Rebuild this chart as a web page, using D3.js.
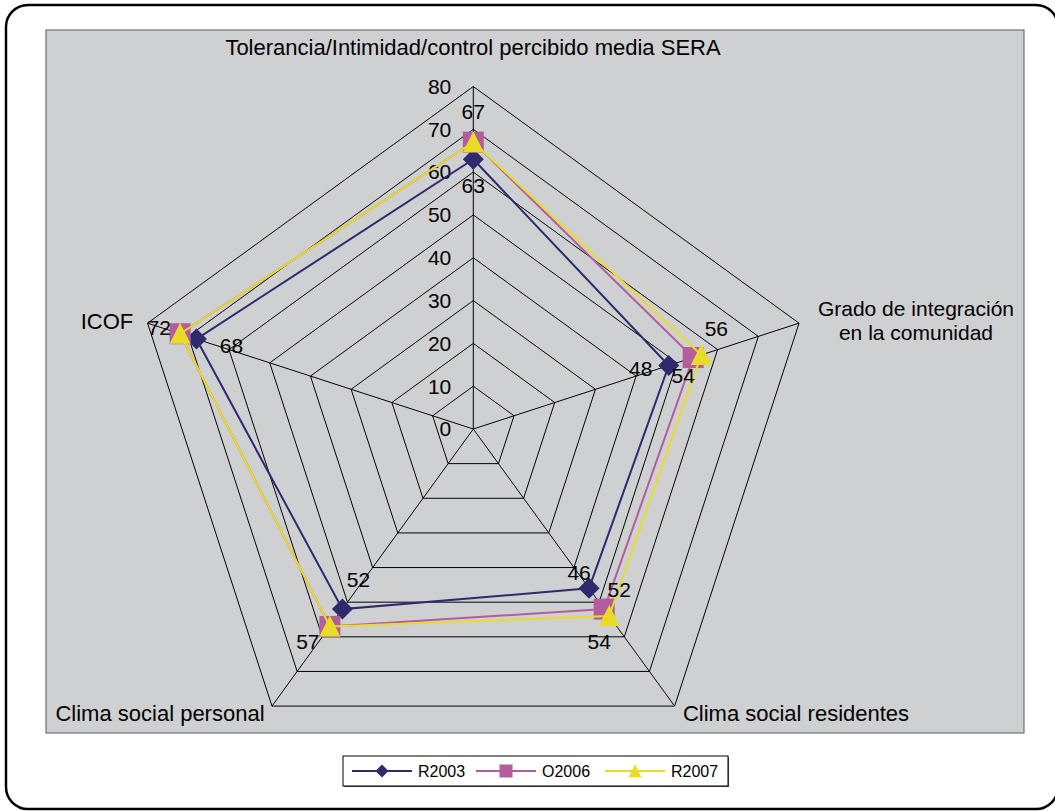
<!DOCTYPE html>
<html>
<head>
<meta charset="utf-8">
<script src="https://cdn.jsdelivr.net/npm/d3@7"></script>
<style>
  html, body { margin: 0; padding: 0; background: #ffffff; }
  svg { display: block; }
  text { font-family: "Liberation Sans", Arial, Helvetica, sans-serif; fill: #000; }
</style>
</head>
<body>
<svg id="chart" width="1055" height="811"></svg>
<script>
// Axes of the radar, clockwise from the top
const axes = [
  ["Tolerancia/Intimidad/control percibido media SERA"],
  ["Grado de integración", "en la comunidad"],
  ["Clima social residentes"],
  ["Clima social personal"],
  ["ICOF"]
];

// Series
const seriesNames = ["R2003", "O2006", "R2007"];
const r2003 = [63, 48, 46, 52, 68];
const o2006 = [67, 54, 52, 57, 72];
const r2007 = [67, 56, 54, 57, 72];

// Radial tick values
const ticks = [0, 10, 20, 30, 40, 50, 60, 70, 80];

const seriesValues = [r2003, o2006, r2007];
const colors = ["#2f2a6d", "#b35d9c", "#e8dc28"];
const markerShapes = ["diamond", "square", "triangle"];

// Data label nudges (px) from each marker, per series and axis
const labelNudge = [
  [[0, 26], [-28, 3], [-10, -16], [16, -29], [35, 7]],
  [[0, -31], [-10, 18], [15, -19], [-22, 15], [-21, -6]],
  [[0, -31], [15, -26], [-10, 26], [-22, 15], [-21, -6]]
];

const FS = 21;      // tick and data labels
const FS_AXIS = 22; // axis names

const svg = d3.select("#chart");

// Outer rounded frame
svg.append("rect")
  .attr("x", 6).attr("y", 5).attr("width", 1052).attr("height", 804)
  .attr("rx", 22).attr("ry", 22)
  .attr("fill", "#fff").attr("stroke", "#000").attr("stroke-width", 2.5);

// Plot area
svg.append("rect")
  .attr("x", 46).attr("y", 30).attr("width", 978).attr("height", 703)
  .attr("fill", "#cfd0d2").attr("stroke", "#5a5a5a").attr("stroke-width", 1);

const cx = 473.3, cy = 429;
const r = d3.scaleLinear().domain([0, 80]).range([0, 342.5]);
const angle = d3.scaleLinear().domain([0, axes.length]).range([-Math.PI / 2, 3 * Math.PI / 2]);
const pt = (i, v) => [cx + r(v) * Math.cos(angle(i)), cy + r(v) * Math.sin(angle(i))];

const g = svg.append("g");

// Rings
ticks.filter(t => t > 0).forEach(t => {
  const pts = axes.map((a, i) => pt(i, t));
  g.append("path")
    .attr("d", d3.line()(pts) + "Z")
    .attr("fill", "none").attr("stroke", "#000").attr("stroke-width", 1);
});

// Spokes
axes.forEach((a, i) => {
  const [x, y] = pt(i, 80);
  g.append("line").attr("x1", cx).attr("y1", cy).attr("x2", x).attr("y2", y)
    .attr("stroke", "#000").attr("stroke-width", 1);
});

// Radial tick labels
g.selectAll("text.tick").data(ticks).join("text")
  .attr("class", "tick")
  .attr("x", cx - 22)
  .attr("y", d => cy - r(d))
  .attr("dy", "0.35em")
  .attr("text-anchor", "end")
  .attr("font-size", FS)
  .text(d => d);

// Axis labels
const axisLabelPos = [
  { x: 473, y: 55, fs: FS_AXIS },
  { x: 916, y: 316, fs: 21 },
  { x: 796, y: 721, fs: FS_AXIS },
  { x: 160, y: 721, fs: FS_AXIS },
  { x: 107, y: 329, fs: FS_AXIS }
];
axes.forEach((lines, i) => {
  const p = axisLabelPos[i];
  lines.forEach((ln, k) => {
    g.append("text").attr("x", p.x).attr("y", p.y + k * 24)
      .attr("text-anchor", "middle").attr("font-size", p.fs)
      .text(ln);
  });
});

// Marker drawing
function drawMarker(sel, shape, size, color) {
  const h = size / 2;
  if (shape === "diamond") {
    sel.append("path").attr("d", `M0,${-h}L${h},0L0,${h}L${-h},0Z`).attr("fill", color);
  } else if (shape === "square") {
    sel.append("rect").attr("x", -h).attr("y", -h).attr("width", size).attr("height", size).attr("fill", color);
  } else {
    sel.append("path").attr("d", `M0,${-h * 1.05}L${h},${h * 0.95}L${-h},${h * 0.95}Z`).attr("fill", color);
  }
}

// Series lines and markers
seriesValues.forEach((vals, s) => {
  const pts = vals.map((v, i) => pt(i, v));
  g.append("path")
    .attr("d", d3.line()(pts) + "Z")
    .attr("fill", "none").attr("stroke", colors[s]).attr("stroke-width", 2);
  pts.forEach(p => {
    const m = g.append("g").attr("transform", `translate(${p[0]},${p[1]})`);
    drawMarker(m, markerShapes[s], 21, colors[s]);
  });
});

// Data labels (identical labels landing on the same spot are drawn once)
const placed = new Set();
seriesValues.forEach((vals, s) => {
  vals.forEach((v, i) => {
    const p = pt(i, v);
    const n = labelNudge[s][i];
    const x = p[0] + n[0], y = p[1] + n[1];
    const key = `${v}@${Math.round(x)},${Math.round(y)}`;
    if (placed.has(key)) return;
    placed.add(key);
    g.append("text")
      .attr("x", x).attr("y", y)
      .attr("dy", "0.35em").attr("text-anchor", "middle")
      .attr("font-size", FS)
      .text(v);
  });
});

// Legend
const lg = svg.append("g");
lg.append("rect").attr("x", 344).attr("y", 757).attr("width", 385).attr("height", 30)
  .attr("fill", "#555");
lg.append("rect").attr("x", 343).attr("y", 756).attr("width", 385).attr("height", 30)
  .attr("fill", "#fff").attr("stroke", "#000").attr("stroke-width", 1);
const legendX = [352, 476, 605];
seriesNames.forEach((name, s) => {
  const x0 = legendX[s], y0 = 771;
  lg.append("line").attr("x1", x0).attr("x2", x0 + 60).attr("y1", y0).attr("y2", y0)
    .attr("stroke", colors[s]).attr("stroke-width", 2);
  const m = lg.append("g").attr("transform", `translate(${x0 + 30},${y0})`);
  drawMarker(m, markerShapes[s], 13, colors[s]);
  lg.append("text").attr("x", x0 + 66).attr("y", y0).attr("dy", "0.35em")
    .attr("font-size", 16).text(name);
});
</script>
</body>
</html>
